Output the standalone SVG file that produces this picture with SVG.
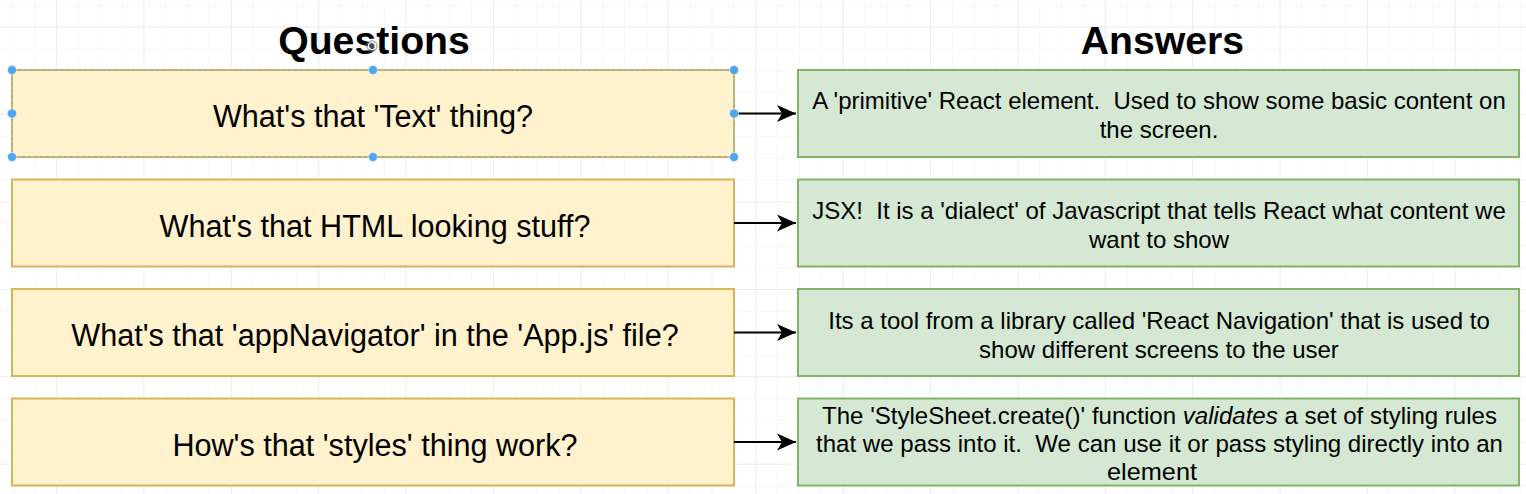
<svg xmlns="http://www.w3.org/2000/svg" width="1526" height="494" viewBox="0 0 1526 494">
<defs>
<pattern id="minor" patternUnits="userSpaceOnUse" x="12.3" y="4.8" width="21.85" height="21.85">
<path d="M0,0 V21.85 M0,0 H21.85" fill="none" stroke="#f1f1f1" stroke-width="1"/>
</pattern>
<pattern id="major" patternUnits="userSpaceOnUse" x="56" y="26.7" width="87.4" height="87.4">
<path d="M0,0 V87.4 M0,0 H87.4" fill="none" stroke="#e4e4e4" stroke-width="1"/>
</pattern>
<marker id="arr" markerUnits="userSpaceOnUse" markerWidth="22" markerHeight="20" refX="19" refY="9" orient="auto">
<path d="M19,9 L0,0.5 L5,9 L0,17.5 Z" fill="#000"/>
</marker>
</defs>
<style>
.q{fill:#fff2cc;stroke:#d6b656;stroke-width:2}
.a{fill:#d5e8d4;stroke:#82b366;stroke-width:2}
.t{font-family:"Liberation Sans",Arial,Helvetica,sans-serif;fill:#000;text-anchor:middle;white-space:pre}
.ql{font-size:30.6px}
.al{font-size:24px}
.al4{font-size:24.5px}
.h{font-size:39.2px;font-weight:bold}
.edge{stroke:#000;stroke-width:2;fill:none}
.hd{fill:#4ea6ee;stroke:#ffffff;stroke-width:0.5}
</style>
<rect x="0" y="0" width="1526" height="494" fill="#ffffff"/>
<rect x="0" y="0" width="1526" height="494" fill="url(#minor)"/>
<rect x="0" y="0" width="1526" height="494" fill="url(#major)"/>

<g id="title-questions"><text class="t h" x="374" y="54">Questions</text></g>
<g id="title-answers"><text class="t h" x="1162.5" y="54">Answers</text></g>

<g id="q1">
<rect class="q" x="12" y="70" width="722" height="87"/>
<text class="t ql" x="373" y="127">What's that 'Text' thing?</text>
</g>
<g id="q2">
<rect class="q" x="12" y="179.5" width="722" height="87"/>
<text class="t ql" x="375" y="236.5">What's that HTML looking stuff?</text>
</g>
<g id="q3">
<rect class="q" x="12" y="289" width="722" height="87"/>
<text class="t ql" x="375" y="346">What's that 'appNavigator' in the 'App.js' file?</text>
</g>
<g id="q4">
<rect class="q" x="12" y="398.5" width="722" height="87"/>
<text class="t ql" x="375" y="455.5">How's that 'styles' thing work?</text>
</g>

<g id="a1">
<rect class="a" x="798" y="70" width="721" height="87"/>
<text class="t al" x="1159" y="109">A 'primitive' React element.  Used to show some basic content on</text>
<text class="t al" x="1159" y="137.5">the screen.</text>
</g>
<g id="a2">
<rect class="a" x="798" y="179.5" width="721" height="87"/>
<text class="t al" x="1159" y="219">JSX!  It is a 'dialect' of Javascript that tells React what content we</text>
<text class="t al" x="1159" y="247.5">want to show</text>
</g>
<g id="a3">
<rect class="a" x="798" y="289" width="721" height="87"/>
<text class="t al" x="1159" y="329">Its a tool from a library called 'React Navigation' that is used to</text>
<text class="t al" x="1159" y="357.5">show different screens to the user</text>
</g>
<g id="a4">
<rect class="a" x="798" y="398.5" width="721" height="87"/>
<text class="t al4" x="1159.5" y="423.5" textLength="675" lengthAdjust="spacingAndGlyphs">The 'StyleSheet.create()' function <tspan font-style="italic">validates</tspan> a set of styling rules</text>
<text class="t al4" x="1159.5" y="451.5" textLength="687" lengthAdjust="spacingAndGlyphs">that we pass into it.  We can use it or pass styling directly into an</text>
<text class="t al4" x="1152" y="479.5" textLength="90" lengthAdjust="spacingAndGlyphs">element</text>
</g>

<g id="connectors">
<path class="edge" d="M734,113.5 H796" marker-end="url(#arr)"/>
<path class="edge" d="M734,223 H796" marker-end="url(#arr)"/>
<path class="edge" d="M734,332.5 H796" marker-end="url(#arr)"/>
<path class="edge" d="M734,442 H796" marker-end="url(#arr)"/>
</g>

<g id="selection">
<rect x="12" y="70" width="722" height="87" fill="none" stroke="#6aaee8" stroke-width="1" stroke-dasharray="3,3"/>
<circle class="hd" cx="12" cy="70" r="4.5"/>
<circle class="hd" cx="373" cy="70" r="4.5"/>
<circle class="hd" cx="734" cy="70" r="4.5"/>
<circle class="hd" cx="12" cy="113.5" r="4.5"/>
<circle class="hd" cx="734" cy="113.5" r="4.5"/>
<circle class="hd" cx="12" cy="157" r="4.5"/>
<circle class="hd" cx="373" cy="157" r="4.5"/>
<circle class="hd" cx="734" cy="157" r="4.5"/>
<circle cx="372" cy="46" r="6" fill="#888" fill-opacity="0.55"/>
<circle cx="372" cy="46" r="3.5" fill="none" stroke="#fff" stroke-width="1.2"/>
</g>
</svg>
